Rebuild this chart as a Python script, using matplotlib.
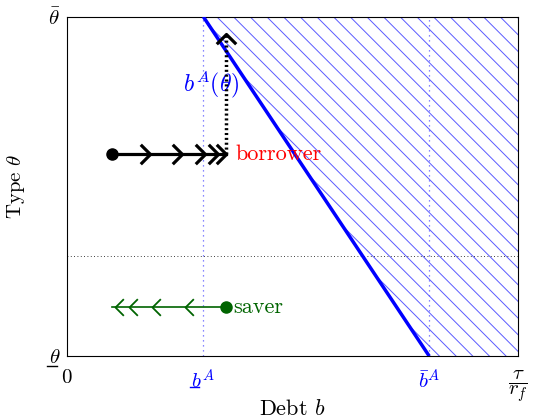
import matplotlib.pyplot as plt
from matplotlib.path import Path
from matplotlib.patches import Polygon
from matplotlib.transforms import offset_copy

plt.rcParams['font.family'] = 'serif'
plt.rcParams['font.serif'] = ['cmr10', 'DejaVu Serif']
plt.rcParams['mathtext.fontset'] = 'cm'
plt.rcParams['axes.formatter.use_mathtext'] = True
plt.rcParams['hatch.linewidth'] = 0.7
plt.rcParams['hatch.color'] = '#5a5aff'

# values (normalised axes)
b_low = 0.302      # underline b^A
b_high = 0.803     # bar b^A
theta_mid = 0.295  # dotted horizontal
borrower_y = 0.596
borrower_start = 0.10
borrower_end = 0.353
borrower_arrows = [0.184, 0.255, 0.306, 0.335, 0.353]
borrower_top = 0.95
saver_y = 0.145
saver_start = 0.353
saver_end = 0.10
saver_arrows = [0.106, 0.137, 0.188, 0.262]

xticks = [0, b_low, b_high, 1]
xticklabels = ['$0$', '', r'$\bar{b}^A$', r'$\dfrac{\tau}{r_f}$']
yticks = [0, 1]
yticklabels = [r'$\theta$', r'$\bar{\theta}$']

chev_r = Path([(-1, 1), (0, 0), (-1, -1)], [Path.MOVETO, Path.LINETO, Path.LINETO])
chev_l = Path([(1, 1), (0, 0), (1, -1)], [Path.MOVETO, Path.LINETO, Path.LINETO])
chev_u = Path([(-1, -1), (0, 0), (1, -1)], [Path.MOVETO, Path.LINETO, Path.LINETO])

fig, ax = plt.subplots(figsize=(5.33, 4.18), dpi=100)
fig.subplots_adjust(left=0.126, right=0.972, top=0.96, bottom=0.148)

# hatched region
poly = Polygon([(b_low, 1), (1, 1), (1, 0), (b_high, 0)], closed=True,
               facecolor='none', edgecolor='#5a5aff', lw=0, hatch='\\\\', zorder=1)
ax.add_patch(poly)
ax.plot([b_low, b_high], [1, 0], color='blue', lw=2.5, zorder=3, solid_capstyle='butt')

ax.axvline(b_low, color='#6060ff', ls=(0, (1, 3)), lw=0.9, zorder=1)
ax.axvline(b_high, color='#6060ff', ls=(0, (1, 3)), lw=0.9, zorder=1)
ax.axhline(theta_mid, color='black', ls=(0, (1, 3)), lw=0.6, zorder=1)

# borrower
ax.plot([borrower_start, borrower_end], [borrower_y, borrower_y], color='black', lw=2.3, zorder=4)
ax.plot([borrower_start], [borrower_y], 'o', color='black', ms=8, zorder=5)
ax.plot(borrower_arrows, [borrower_y] * len(borrower_arrows), ls='none', marker=chev_r,
        ms=14, mew=2.3, mfc='none', mec='black', zorder=5)
ax.plot([borrower_end, borrower_end], [borrower_y, borrower_top], color='black', lw=2.5,
        ls=(0, (0.6, 0.8)), zorder=4)
ax.plot([borrower_end], [borrower_top], ls='none', marker=chev_u, ms=14, mew=2.3,
        mfc='none', mec='black', zorder=5)
ax.text(borrower_end + 0.02, borrower_y, 'borrower', color='red', fontsize=16,
        va='center', ha='left')
ax.text(0.32, 0.80, r'$b^A(\theta)$', color='blue', fontsize=17, ha='center', va='center')

# saver
green = '#006400'
ax.plot([saver_end, saver_start], [saver_y, saver_y], color=green, lw=1.2, zorder=4)
ax.plot([saver_start], [saver_y], 'o', color=green, ms=8, zorder=5)
ax.plot(saver_arrows, [saver_y] * len(saver_arrows), ls='none', marker=chev_l,
        ms=12, mew=1.3, mfc='none', mec=green, zorder=5)
ax.text(saver_start + 0.015, saver_y, 'saver', color=green, fontsize=16,
        va='center', ha='left')

ax.set_xlim(0, 1)
ax.set_ylim(0, 1)
ax.set_xticks(xticks)
ax.set_xticklabels(xticklabels, fontsize=15)
for lbl, c in zip(ax.get_xticklabels(), ['black', 'blue', 'blue', 'black']):
    lbl.set_color(c)
ax.set_yticks(yticks)
ax.set_yticklabels(yticklabels, fontsize=15)
ax.tick_params(axis='x', length=0, pad=9)
ax.tick_params(axis='y', length=0, pad=5)

# underlined b^A tick label
xtr = ax.get_xaxis_transform()
ax.text(b_low, 0, r'$b^A$', color='blue', fontsize=15, ha='center', va='top',
        transform=offset_copy(xtr, fig=fig, x=0, y=-12, units='dots'))


def px_line(x0, x1, y, color):
    inv = fig.transFigure.inverted()
    (fx0, fy), (fx1, _) = inv.transform([(x0, y), (x1, y)])
    fig.add_artist(plt.Line2D([fx0, fx1], [fy, fy], color=color, lw=1.0))


ax_px = ax.transData.transform([(b_low, 0), (0, 0)])
bx, by = ax_px[0]
ox, oy = ax_px[1]
px_line(bx - 13, bx - 4, by - 31, 'blue')
px_line(ox - 20, ox - 10, oy - 10, 'black')

ax.set_xlabel(r'Debt $b$', fontsize=16)
ax.xaxis.set_label_coords(0.5, -0.125)
ax.set_ylabel(r'Type $\theta$', fontsize=15)
ax.yaxis.set_label_coords(-0.088, 0.5)

fig.savefig('out.png', dpi=100)
